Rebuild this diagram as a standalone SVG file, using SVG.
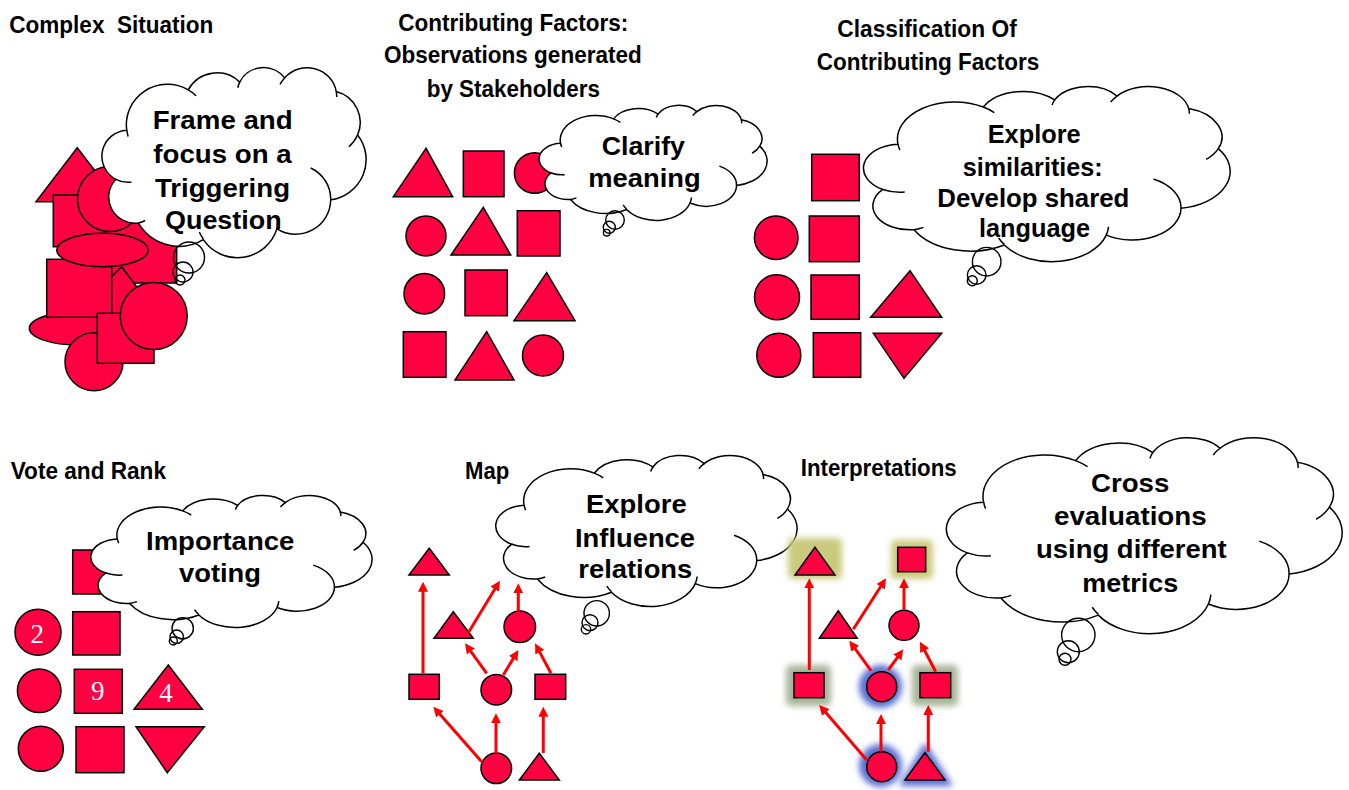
<svg xmlns="http://www.w3.org/2000/svg" xmlns:xlink="http://www.w3.org/1999/xlink" width="1349" height="790" viewBox="0 0 1349 790">
<style>
.sh{fill:#FF0040;stroke:#000;stroke-width:1.5}
.cl{fill:#fff;stroke:#000;stroke-width:1.5;vector-effect:non-scaling-stroke}
.cd{fill:none;stroke:#000;stroke-width:1.5;vector-effect:non-scaling-stroke}
.tc{fill:none;stroke:#000;stroke-width:1.4}
.tt{font-family:"Liberation Sans Narrow","Liberation Sans",Arial,sans-serif;font-weight:bold;font-size:23px;fill:#000}
.ct{font-family:"Liberation Sans",Arial,sans-serif;font-weight:bold;font-size:25px;fill:#000}
.num{font-family:"Liberation Serif","Times New Roman",serif;font-size:27px;fill:#fff;text-anchor:middle}
.ar{fill:none;stroke:#FF0000;stroke-width:3;marker-end:url(#ah)}
.gy{fill:#CACA7E}
.gg{fill:#A8B49A}
.gb{fill:#5A6ED0}
</style>
<defs>
<marker id="ah" viewBox="0 0 10 10" refX="2" refY="5" markerUnits="userSpaceOnUse" markerWidth="10" markerHeight="10" orient="auto">
<path d="M0,0 L10,5 L0,10 z" fill="#FF0000"/>
</marker>
<filter id="blur" x="-50%" y="-50%" width="200%" height="200%"><feGaussianBlur stdDeviation="3"/></filter>
<g id="cloudGlyph">
<path class="cl" d="M3900 14370 A6753 9190 0 0 1 14005 5201 A5333 7267 0 0 1 22456 3431 A4365 5945 0 0 1 29833 2480 A4857 6595 0 0 1 38317 5574 A5333 7273 0 0 1 41818 15458 A6775 9220 0 0 1 37403 30200 A5785 7867 0 0 1 28554 36810 A6752 9215 0 0 1 16480 39263 A7720 10543 0 0 1 5803 35469 A4360 5918 0 0 1 2113 25545 A4345 5945 0 0 1 3900 14370 Z"/>
<path class="cd" d="M4693 26177 A4345 5945 0 0 1 2113 25545 M6928 34899 A4360 5918 0 0 1 5803 35469 M16478 39090 A6752 9215 0 0 1 15811 37520 M28827 34751 A6752 9215 0 0 1 28554 36810 M34129 22954 A5785 7867 0 0 1 37403 30200 M41818 15458 A5333 7273 0 0 1 40370 18133 M38317 5574 A4857 6595 0 0 1 38394 6839 M29078 3952 A4857 6595 0 0 1 29833 2480 M22141 4720 A4365 5945 0 0 1 22456 3431 M14005 5201 A6753 9190 0 0 1 15301 6544 M4127 15789 A6753 9190 0 0 1 3900 14370"/>
</g>
</defs>
<rect width="1349" height="790" fill="#fff"/>

<!-- Titles -->
<g id="titles">
<text class="tt" x="9.3" y="33.3" textLength="204" lengthAdjust="spacingAndGlyphs" xml:space="preserve">Complex  Situation</text>
<text class="tt" x="398.3" y="30.7" textLength="230" lengthAdjust="spacingAndGlyphs">Contributing Factors:</text>
<text class="tt" x="384" y="63.3" textLength="257.7" lengthAdjust="spacingAndGlyphs">Observations generated</text>
<text class="tt" x="426.7" y="96.7" textLength="173.3" lengthAdjust="spacingAndGlyphs">by Stakeholders</text>
<text class="tt" x="837.3" y="37.3" textLength="179.4" lengthAdjust="spacingAndGlyphs">Classification Of</text>
<text class="tt" x="816.7" y="70" textLength="222.6" lengthAdjust="spacingAndGlyphs">Contributing Factors</text>
<text class="tt" x="10.7" y="479.3" textLength="155.3" lengthAdjust="spacingAndGlyphs">Vote and Rank</text>
<text class="tt" x="465" y="479.3" textLength="44.3" lengthAdjust="spacingAndGlyphs">Map</text>
<text class="tt" x="800.7" y="476" textLength="156" lengthAdjust="spacingAndGlyphs">Interpretations</text>
</g>

<!-- Panel 1: complex situation -->
<g id="complex-shapes">
<polygon class="sh" points="77.3,147.7 36,201.7 118.7,201.7"/>
<rect class="sh" x="80" y="215" width="96.7" height="68"/>
<rect class="sh" x="53.3" y="195" width="52.7" height="51.7"/>
<circle class="sh" cx="110" cy="199" r="32.5"/>
<polygon class="sh" points="121.7,266.7 95,293.4 115,318 148,302"/>
<ellipse class="sh" cx="78" cy="328.3" rx="48.7" ry="16.7"/>
<rect class="sh" x="46.7" y="259.3" width="65" height="58"/>
<ellipse class="sh" cx="102.5" cy="250" rx="45.8" ry="16.7"/>
<circle class="sh" cx="94" cy="361.7" r="29"/>
<rect class="sh" x="97.3" y="313.3" width="56.7" height="50"/>
<circle class="sh" cx="153.7" cy="316" r="33.5"/>
</g>
<g id="cloud-frame">
<use xlink:href="#cloudGlyph" href="#cloudGlyph" transform="translate(103,67) scale(0.006088,0.004398)"/>
<circle class="tc" cx="189" cy="257.5" r="15.5"/>
<circle class="tc" cx="183" cy="272" r="10"/>
<circle class="tc" cx="180" cy="280" r="5"/>
<text class="ct" x="152.7" y="129.3" textLength="140" lengthAdjust="spacingAndGlyphs">Frame and</text>
<text class="ct" x="153.3" y="162.7" textLength="138.3" lengthAdjust="spacingAndGlyphs">focus on a</text>
<text class="ct" x="155" y="196.7" textLength="135" lengthAdjust="spacingAndGlyphs">Triggering</text>
<text class="ct" x="165" y="229.3" textLength="116.7" lengthAdjust="spacingAndGlyphs">Question</text>
</g>

<!-- Panel 2: contributing factors -->
<g id="factors-shapes">
<polygon class="sh" points="426,148.3 393.3,196.7 452.7,196.7"/>
<rect class="sh" x="463.3" y="151" width="40.7" height="45.7"/>
<circle class="sh" cx="534.7" cy="173" r="20.3"/>
<circle class="sh" cx="426" cy="236" r="20"/>
<polygon class="sh" points="483.3,207.3 451,255 510.7,255"/>
<rect class="sh" x="517.3" y="210.7" width="42.7" height="45.3"/>
<circle class="sh" cx="424.3" cy="293.7" r="20.3"/>
<rect class="sh" x="465" y="270" width="42.3" height="45.7"/>
<polygon class="sh" points="546.7,272.7 514,320.7 575,320.7"/>
<rect class="sh" x="403.3" y="331.7" width="42.7" height="45.6"/>
<polygon class="sh" points="486.7,331.7 455,380 514,380"/>
<circle class="sh" cx="543" cy="355.5" r="20.5"/>
</g>
<g id="cloud-clarify">
<use xlink:href="#cloudGlyph" href="#cloudGlyph" transform="translate(540,105) scale(0.005255,0.002662)"/>
<circle class="tc" cx="615" cy="220" r="9.3"/>
<circle class="tc" cx="609.3" cy="227.3" r="6"/>
<circle class="tc" cx="606.7" cy="232.7" r="3.3"/>
<text class="ct" x="601.7" y="155" textLength="83.3" lengthAdjust="spacingAndGlyphs">Clarify</text>
<text class="ct" x="588.3" y="186.7" textLength="112.3" lengthAdjust="spacingAndGlyphs">meaning</text>
</g>

<!-- Panel 3: classification -->
<g id="classification-shapes">
<rect class="sh" x="811.7" y="154.3" width="47.6" height="46.4"/>
<circle class="sh" cx="776.2" cy="237.7" r="21.8"/>
<rect class="sh" x="809.3" y="216" width="50" height="45.7"/>
<circle class="sh" cx="777" cy="297.2" r="22.5"/>
<rect class="sh" x="811" y="275" width="48.3" height="44.3"/>
<polygon class="sh" points="910,270.7 870.7,317.3 941.7,317.3"/>
<circle class="sh" cx="778.8" cy="355.3" r="22"/>
<rect class="sh" x="813.3" y="332.7" width="47.4" height="44.6"/>
<polygon class="sh" points="873.3,333.3 941.7,333.3 904,378.3"/>
</g>
<g id="cloud-similarities">
<use xlink:href="#cloudGlyph" href="#cloudGlyph" transform="translate(865,86) scale(0.008449,0.004051)"/>
<circle class="tc" cx="986.7" cy="261.7" r="14.3"/>
<circle class="tc" cx="976.7" cy="275" r="9.3"/>
<circle class="tc" cx="972.3" cy="280.7" r="5"/>
<text class="ct" x="987.7" y="143.3" textLength="93" lengthAdjust="spacingAndGlyphs">Explore</text>
<text class="ct" x="962.7" y="176" textLength="140" lengthAdjust="spacingAndGlyphs">similarities:</text>
<text class="ct" x="937.3" y="206.7" textLength="192" lengthAdjust="spacingAndGlyphs">Develop shared</text>
<text class="ct" x="979" y="236.7" textLength="111" lengthAdjust="spacingAndGlyphs">language</text>
</g>

<!-- Panel 4: vote and rank -->
<g id="vote-shapes">
<rect class="sh" x="72.7" y="550" width="47.3" height="44"/>
<circle class="sh" cx="38" cy="632.2" r="23"/>
<text class="num" x="37.2" y="643.3">2</text>
<rect class="sh" x="72.7" y="611.7" width="47.3" height="43.3"/>
<circle class="sh" cx="39.2" cy="690.8" r="21.8"/>
<rect class="sh" x="74.3" y="669.3" width="48" height="44"/>
<text class="num" x="97.7" y="700">9</text>
<polygon class="sh" points="168.3,665 134,709.3 202.3,709.3"/>
<text class="num" x="166" y="701.7">4</text>
<circle class="sh" cx="40.8" cy="748.8" r="22.5"/>
<rect class="sh" x="76" y="726.7" width="48" height="46"/>
<polygon class="sh" points="136,726.7 204.3,726.7 167.3,772.7"/>
</g>
<g id="cloud-importance">
<use xlink:href="#cloudGlyph" href="#cloudGlyph" transform="translate(92,495) scale(0.006481,0.003056)"/>
<circle class="tc" cx="182.7" cy="628.3" r="10.7"/>
<circle class="tc" cx="176.7" cy="636.7" r="6.7"/>
<circle class="tc" cx="173.3" cy="641" r="4"/>
<text class="ct" x="146" y="550" textLength="148.3" lengthAdjust="spacingAndGlyphs">Importance</text>
<text class="ct" x="179" y="581.7" textLength="82" lengthAdjust="spacingAndGlyphs">voting</text>
</g>

<!-- Panel 5: map -->
<g id="cloud-influence">
<use xlink:href="#cloudGlyph" href="#cloudGlyph" transform="translate(497,455) scale(0.006944,0.003495)"/>
<circle class="tc" cx="596.7" cy="613.3" r="12.7"/>
<circle class="tc" cx="590" cy="622.7" r="8"/>
<circle class="tc" cx="586" cy="629.3" r="4.7"/>
<text class="ct" x="586" y="513.3" textLength="100.7" lengthAdjust="spacingAndGlyphs">Explore</text>
<text class="ct" x="575" y="546.7" textLength="120" lengthAdjust="spacingAndGlyphs">Influence</text>
<text class="ct" x="578.3" y="578.3" textLength="114" lengthAdjust="spacingAndGlyphs">relations</text>
</g>
<g id="map-nodes">
<polygon id="map-t1" class="sh" points="429.3,548.3 409,575 449.3,575"/>
<polygon id="map-t2" class="sh" points="453.3,611.7 434,638.3 473.3,638.3"/>
<circle id="map-c1" class="sh" cx="519.8" cy="626.7" r="15.8"/>
<rect id="map-s1" class="sh" x="409" y="674.3" width="30.3" height="25"/>
<circle id="map-c2" class="sh" cx="496.3" cy="689.7" r="15.3"/>
<rect id="map-s2" class="sh" x="535" y="674.3" width="30.7" height="25"/>
<circle id="map-c3" class="sh" cx="496.3" cy="768.3" r="15.3"/>
<polygon id="map-t3" class="sh" points="539.3,753.3 519.3,780 559.3,780"/>
</g>
<g id="map-connectors">
<path class="ar" d="M423,673.3 L423,589.7"/>
<path class="ar" d="M468.3,632.7 L495.8,587.5"/>
<path class="ar" d="M518.3,611 L518.3,591.3"/>
<path class="ar" d="M486.7,673.3 L469.7,649.8"/>
<path class="ar" d="M503.3,675 L514.2,656.9"/>
<path class="ar" d="M551,673.3 L538.8,650.4"/>
<path class="ar" d="M481.7,761.7 L438.6,712.7"/>
<path class="ar" d="M496,753 L496,721.3"/>
<path class="ar" d="M543.3,753 L543.3,714.7"/>
</g>

<!-- Panel 6: interpretations -->
<g id="interp-glows" filter="url(#blur)">
<rect class="gy" x="788" y="538" width="54" height="41" rx="5"/>
<rect class="gy" x="891" y="540" width="42" height="39" rx="5"/>
<rect class="gg" x="786" y="665" width="45" height="41" rx="5"/>
<rect class="gg" x="912" y="665" width="46" height="41" rx="5"/>
<circle class="gb" cx="880.5" cy="686.5" r="21.5"/>
<circle class="gb" cx="880.5" cy="765.5" r="21.5"/>
<polygon class="gb" points="925,742 899,786 953,786"/>
</g>
<g id="interp-nodes">
<polygon id="int-t1" class="sh" points="815,547.3 795,575 835,575"/>
<rect id="int-s0" class="sh" x="897.7" y="547.3" width="28" height="24.4"/>
<polygon id="int-t2" class="sh" points="838.3,610.7 819.3,638.3 857.3,638.3"/>
<circle id="int-c1" class="sh" cx="904" cy="625.3" r="15"/>
<rect id="int-s1" class="sh" x="794" y="672.7" width="30" height="25"/>
<circle id="int-c2" class="sh" cx="881.7" cy="686.7" r="15"/>
<rect id="int-s2" class="sh" x="920" y="672.7" width="30.7" height="25"/>
<circle id="int-c3" class="sh" cx="881.7" cy="766.7" r="15"/>
<polygon id="int-t3" class="sh" points="925,752.7 905,780 945,780"/>
</g>
<g id="interp-connectors">
<path class="ar" d="M809.3,670 L809.3,586.3"/>
<path class="ar" d="M853.3,629.3 L881.7,585"/>
<path class="ar" d="M904,610 L904,586.3"/>
<path class="ar" d="M871,670.7 L854,647.2"/>
<path class="ar" d="M888.3,670 L898.6,655.8"/>
<path class="ar" d="M935.7,671.7 L923.7,648.8"/>
<path class="ar" d="M866.7,760 L824.5,711.1"/>
<path class="ar" d="M881,751.7 L881,722"/>
<path class="ar" d="M928.3,751.7 L928.3,713"/>
</g>
<g id="cloud-cross">
<use xlink:href="#cloudGlyph" href="#cloudGlyph" transform="translate(948,437) scale(0.009120,0.004537)"/>
<circle class="tc" cx="1078.3" cy="635" r="16.7"/>
<circle class="tc" cx="1068.3" cy="651.7" r="11"/>
<circle class="tc" cx="1065" cy="659.3" r="6"/>
<text class="ct" x="1091" y="491.7" textLength="78.3" lengthAdjust="spacingAndGlyphs">Cross</text>
<text class="ct" x="1054" y="525" textLength="152.7" lengthAdjust="spacingAndGlyphs">evaluations</text>
<text class="ct" x="1036" y="558.3" textLength="190.7" lengthAdjust="spacingAndGlyphs">using different</text>
<text class="ct" x="1082.3" y="591.7" textLength="96" lengthAdjust="spacingAndGlyphs">metrics</text>
</g>
</svg>
